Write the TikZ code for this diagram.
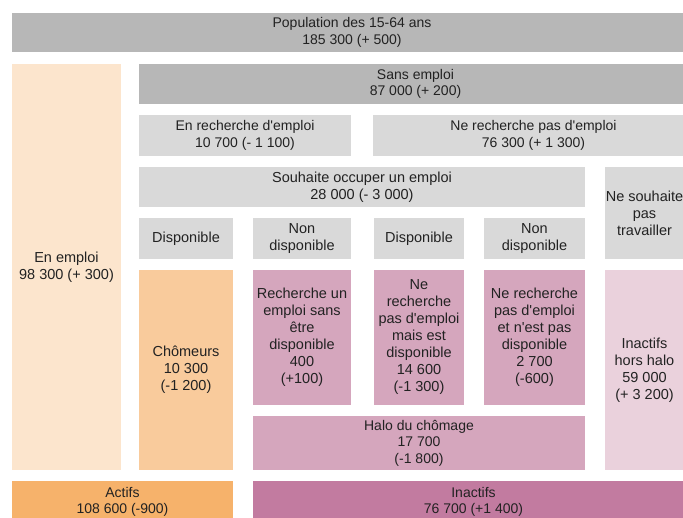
\documentclass[tikz,border=0pt]{standalone}
\usepackage{fontspec}
\setmainfont{Liberation Sans}[Ligatures=TeXOff]
\definecolor{gdark}{HTML}{B7B7B7}
\definecolor{glight}{HTML}{D9D9D9}
\definecolor{or3}{HTML}{FCE5CD}
\definecolor{or2}{HTML}{F9CB9C}
\definecolor{or1}{HTML}{F6B26B}
\definecolor{mg3}{HTML}{EAD1DC}
\definecolor{mg2}{HTML}{D5A6BD}
\definecolor{mg1}{HTML}{C27BA0}
\definecolor{txt}{HTML}{222222}
\newcommand\mybox[8]{\node[cell, #8, fill=#6, minimum width={(#4-#2)*1pt}, minimum height={(#5-#3)*1pt}] (#1) at ({(#2+#4)/2},{(#3+#5)/2}) {#7};}
\begin{document}
\begin{tikzpicture}[x=1pt,y=-1pt,
  cell/.style={inner sep=0pt, outer sep=0pt, align=center, text=txt},
  cond/.style={font=\fontsize{14}{16.5}\selectfont},
  reg/.style={font=\fontsize{14.5}{17}\selectfont}]
\useasboundingbox (0,0) rectangle (683,517);
\mybox{pop}{12}{13}{692}{52}{gdark}{Population des 15-64 ans\\185 300 (+ 500)}{cond}
\mybox{emploi}{12}{64}{121}{470}{or3}{En emploi\\98 300 (+ 300)}{reg}
\mybox{sans}{139}{64}{692}{104}{gdark}{Sans emploi\\87 000 (+ 200)}{cond}
\mybox{enrech}{139}{115}{351}{156}{glight}{En recherche d'emploi\\10 700 (- 1 100)}{cond}
\mybox{nerech}{373}{115}{694}{156}{glight}{Ne recherche pas d'emploi\\76 300 (+ 1 300)}{cond}
\mybox{souhaite}{139}{167}{585}{207}{glight}{Souhaite occuper un emploi\\28 000 (- 3 000)}{reg}
\mybox{nesouhaite}{605}{167}{684}{259}{glight}{Ne souhaite\\pas\\travailler}{reg}
\mybox{dispoa}{139}{218}{233}{259}{glight}{Disponible}{reg}
\mybox{nondispoa}{253}{218}{351}{259}{glight}{Non\\disponible}{reg}
\mybox{dispob}{374}{218}{464}{259}{glight}{Disponible}{reg}
\mybox{nondispob}{484}{218}{585}{259}{glight}{Non\\disponible}{reg}
\mybox{chomeurs}{139}{270}{233}{470}{or2}{Chômeurs\\10 300\\(-1 200)}{reg}
\mybox{rech}{253}{270}{351}{405}{mg2}{Recherche un\\emploi sans\\être\\disponible\\400\\(+100)}{reg}
\mybox{nerechdispo}{374}{270}{464}{405}{mg2}{Ne\\recherche\\pas d'emploi\\mais est\\disponible\\14 600\\(-1 300)}{reg}
\mybox{nerechnon}{484}{270}{585}{405}{mg2}{Ne recherche\\pas d'emploi\\et n'est pas\\disponible\\2 700\\(-600)}{reg}
\mybox{horshalo}{605}{270}{684}{470}{mg3}{Inactifs\\hors halo\\59 000\\(+ 3 200)}{reg}
\mybox{halo}{253}{416}{585}{470}{mg2}{Halo du chômage\\17 700\\(-1 800)}{cond}
\mybox{actifs}{12}{481}{233}{523}{or1}{Actifs\\108 600 (-900)}{cond}
\mybox{inactifs}{253}{481}{694}{523}{mg1}{Inactifs\\76 700 (+1 400)}{cond}
\end{tikzpicture}
\end{document}
